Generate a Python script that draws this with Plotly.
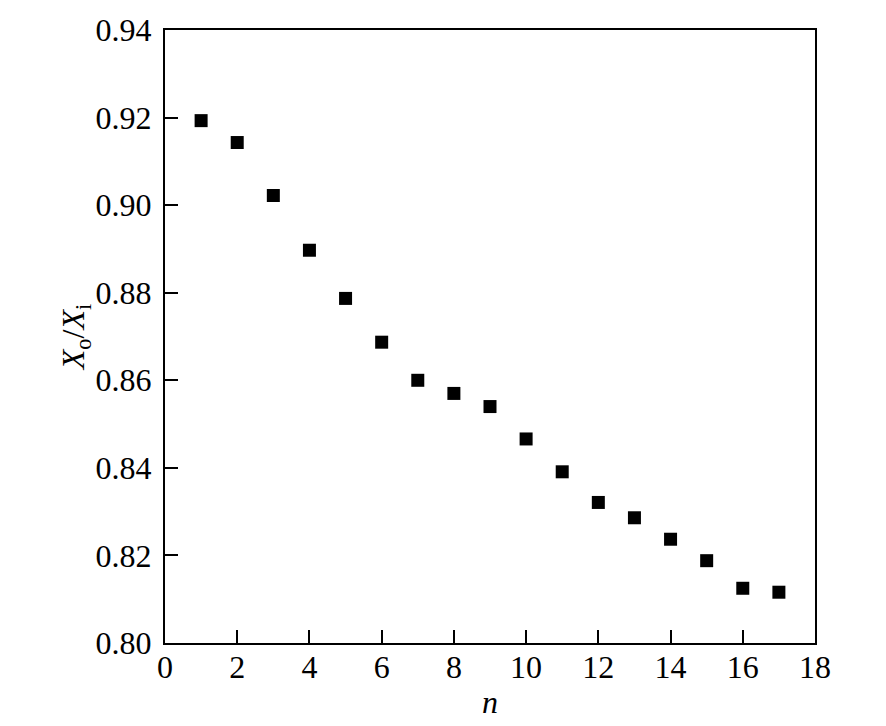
import plotly.graph_objects as go

n_values = [1, 2, 3, 4, 5, 6, 7, 8, 9, 10, 11, 12, 13, 14, 15, 16, 17]
ratio_values = [0.9193, 0.9143, 0.9022, 0.8897, 0.8787, 0.8687, 0.8600, 0.8570,
                0.8540, 0.8466, 0.8391, 0.8321, 0.8286, 0.8237, 0.8188, 0.8125, 0.8116]
x_ticks = [0, 2, 4, 6, 8, 10, 12, 14, 16, 18]
y_ticks = [0.80, 0.82, 0.84, 0.86, 0.88, 0.90, 0.92, 0.94]

font_family = "Liberation Serif"
fs = 32

fig = go.Figure()
fig.add_trace(go.Scatter(
    x=n_values, y=ratio_values, mode="markers",
    marker=dict(symbol="square", size=13, color="black", line=dict(width=0)),
    showlegend=False,
))

fig.update_layout(
    width=886, height=726,
    margin=dict(l=165, r=71, t=20, b=80),
    paper_bgcolor="white", plot_bgcolor="white",
    font=dict(family=font_family, size=fs, color="black"),
)
fig.update_xaxes(
    range=[0, 18], tickvals=x_ticks, ticktext=[str(v) for v in x_ticks],
    ticks="inside", ticklen=13, tickwidth=2, tickcolor="black",
    showline=True, linewidth=2, linecolor="black", mirror=True,
    showgrid=False, zeroline=False,
    tickfont=dict(family=font_family, size=fs, color="black"),
    ticklabelstandoff=-5,
    title=dict(text="<i>n</i>", font=dict(family=font_family, size=fs, color="black"), standoff=6),
)
fig.update_yaxes(
    range=[0.80, 0.94], tickvals=y_ticks, ticktext=[f"{v:.2f}" for v in y_ticks],
    ticks="inside", ticklen=13, tickwidth=2, tickcolor="black",
    showline=True, linewidth=2, linecolor="black", mirror=True,
    showgrid=False, zeroline=False,
    tickfont=dict(family=font_family, size=fs, color="black"),
    ticklabelstandoff=5,
    title=dict(text="<i>X</i><sub>o</sub>/<i>X</i><sub>i</sub>",
               font=dict(family=font_family, size=fs, color="black"), standoff=1),
)

fig.write_html("out.html", config={"displayModeBar": False},
               post_script="document.body.style.margin='0';")
